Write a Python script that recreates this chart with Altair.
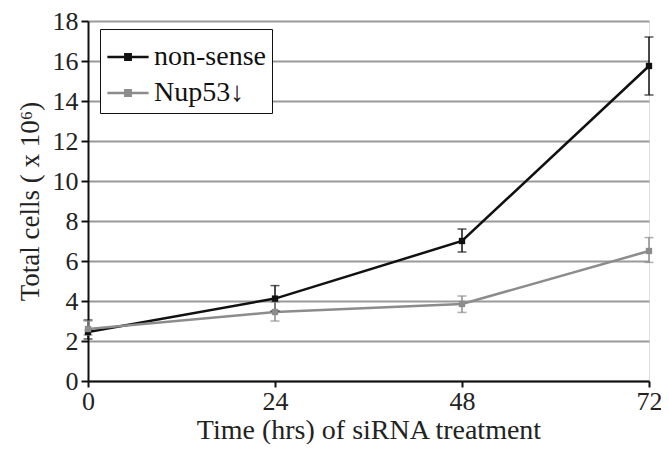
import altair as alt
import pandas as pd

hours = [0, 24, 48, 72]
series_names = ["non-sense", "Nup53\u2193"]
nonsense_mean = [2.45, 4.12, 7.0, 15.75]
nonsense_lo = [2.1, 3.5, 6.45, 14.3]
nonsense_hi = [3.05, 4.77, 7.6, 17.2]
nup_mean = [2.6, 3.45, 3.85, 6.5]
nup_lo = [2.3, 3.0, 3.43, 5.93]
nup_hi = [3.0, 3.95, 4.25, 7.17]

rows = []
for name, m, lo, hi in [(series_names[0], nonsense_mean, nonsense_lo, nonsense_hi),
                        (series_names[1], nup_mean, nup_lo, nup_hi)]:
    for h, a, b, c in zip(hours, m, lo, hi):
        rows.append({"hours": h, "series": name, "mean": a, "lo": b, "hi": c})
df = pd.DataFrame(rows)

serif = "Liberation Serif"
color_scale = alt.Scale(domain=series_names, range=["#111111", "#8c8c8c"])

x = alt.X("hours:Q", scale=alt.Scale(domain=[0, 72], nice=False),
          axis=alt.Axis(values=hours, title="Time (hrs) of siRNA treatment", grid=False,
                        labelFont=serif, labelFontSize=26, titleFont=serif, titleFontSize=28,
                        titleFontWeight="normal", labelColor="#222", titleColor="#222",
                        domainColor="#111", domainWidth=2, tickColor="#111", tickWidth=2,
                        tickSize=6, labelPadding=1, titlePadding=2, labelFlush=False,
                        labelOverlap=False, tickCount=4))
y_axis = alt.Axis(values=list(range(0, 19, 2)), tickCount=10,
                  title="Total cells ( x 10\u2076)", grid=True,
                  gridColor="#9a9a9a", gridWidth=2, labelFont=serif, labelFontSize=26,
                  titleFont=serif, titleFontSize=27, titleFontWeight="normal",
                  labelColor="#222", titleColor="#222", domainColor="#111", domainWidth=2,
                  tickColor="#111", tickWidth=2, tickSize=7, labelPadding=3, titlePadding=8,
                  labelOverlap=False)

color = alt.Color("series:N", scale=color_scale,
                  legend=alt.Legend(title=None, orient="none", legendX=12, legendY=8,
                                    strokeColor="#111", fillColor="white", padding=6,
                                    labelFont=serif, labelFontSize=28, labelColor="#111",
                                    symbolType="M-1,0L1,0M-0.13,-0.13L0.13,-0.13L0.13,0.13L-0.13,0.13Z",
                                    symbolSize=1700, symbolStrokeWidth=2.5, rowPadding=0,
                                    labelOffset=4))

base = alt.Chart(df)
line = base.mark_line(strokeWidth=2.5).encode(
    x=x, y=alt.Y("mean:Q", scale=alt.Scale(domain=[0, 18], nice=False), axis=y_axis),
    color=color)
pts = base.mark_point(shape="square", filled=True, size=40, opacity=1).encode(
    x="hours:Q", y="mean:Q", color=color)
rules = base.mark_rule(strokeWidth=1.5).encode(
    x="hours:Q", y="lo:Q", y2="hi:Q", color=alt.Color("series:N", scale=color_scale, legend=None))
caps_lo = base.mark_tick(thickness=1.5, size=9, orient="horizontal").encode(
    x="hours:Q", y="lo:Q", color=alt.Color("series:N", scale=color_scale, legend=None))
caps_hi = base.mark_tick(thickness=1.5, size=9, orient="horizontal").encode(
    x="hours:Q", y="hi:Q", color=alt.Color("series:N", scale=color_scale, legend=None))

chart = alt.layer(line, rules, caps_lo, caps_hi, pts).properties(
    width=561, height=360,
    autosize=alt.AutoSizeParams(type="none"),
    padding={"left": 80, "top": 13, "right": 12, "bottom": 63},
).configure_view(stroke="#9a9a9a", strokeWidth=2).configure(background="white")

chart.save("out.html", embed_options={"renderer": "svg", "actions": False})
